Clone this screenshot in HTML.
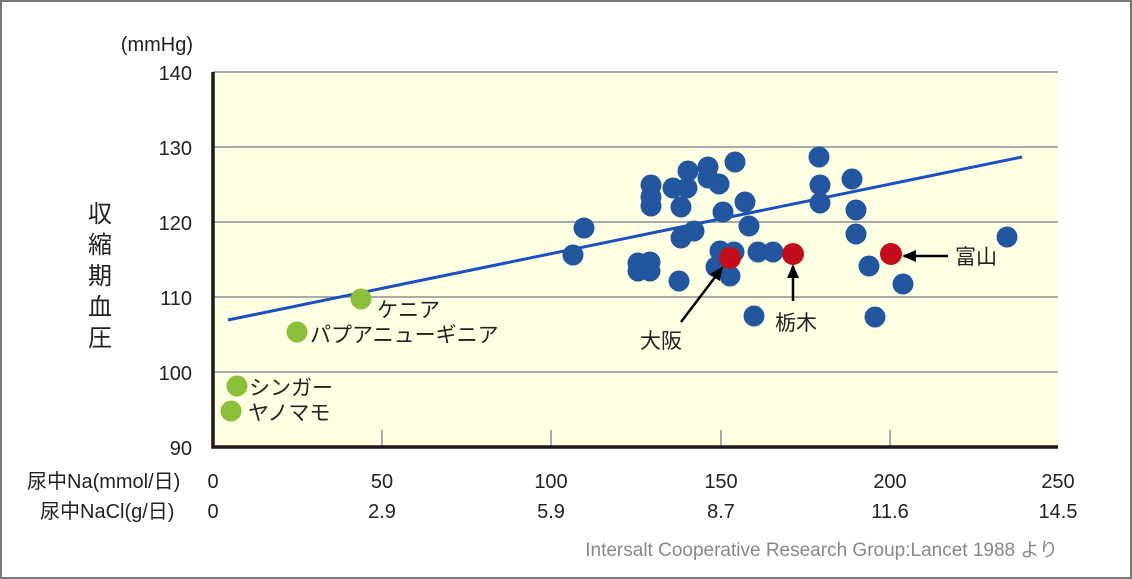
<!DOCTYPE html>
<html><head><meta charset="utf-8"><style>
html,body{margin:0;padding:0;background:#fff}
svg{display:block}
text{font-family:"Liberation Sans","Noto Sans CJK JP",sans-serif;fill:#222}
</style></head><body>
<svg width="1132" height="579" viewBox="0 0 1132 579" xmlns="http://www.w3.org/2000/svg">
<defs><marker id="ah" markerWidth="14" markerHeight="12" refX="12" refY="6" orient="auto" markerUnits="userSpaceOnUse"><path d="M0,0 L14,6 L0,12 z" fill="#000"/></marker></defs>
<rect x="1" y="1" width="1130" height="577" fill="#fff" stroke="#777" stroke-width="2"/>
<rect x="213" y="72" width="845" height="375" fill="#ffffe3"/>
<g stroke="#aaa" stroke-width="2">
<line x1="213" y1="72" x2="1058" y2="72"/>
<line x1="213" y1="147" x2="1058" y2="147"/>
<line x1="213" y1="222" x2="1058" y2="222"/>
<line x1="213" y1="297" x2="1058" y2="297"/>
<line x1="213" y1="372" x2="1058" y2="372"/>
<line x1="382" y1="430" x2="382" y2="447"/>
<line x1="551" y1="430" x2="551" y2="447"/>
<line x1="721" y1="430" x2="721" y2="447"/>
<line x1="890" y1="430" x2="890" y2="447"/>
</g>
<polyline points="213,72 213,447 1058,447" fill="none" stroke="#231815" stroke-width="3.5"/>
<line x1="228" y1="320" x2="1022" y2="157" stroke="#1b50c0" stroke-width="3"/>
<g fill="#2257a0">
<circle cx="573" cy="255" r="10.5"/><circle cx="584" cy="228" r="10.5"/><circle cx="638" cy="263" r="10.5"/><circle cx="638" cy="271" r="10.5"/><circle cx="650" cy="262" r="10.5"/><circle cx="650" cy="271" r="10.5"/><circle cx="651" cy="185" r="10.5"/><circle cx="651" cy="197" r="10.5"/><circle cx="651" cy="206" r="10.5"/><circle cx="679" cy="281" r="10.5"/><circle cx="673" cy="188" r="10.5"/><circle cx="687" cy="188" r="10.5"/><circle cx="681" cy="207" r="10.5"/><circle cx="681" cy="238" r="10.5"/><circle cx="688" cy="171" r="10.5"/><circle cx="694" cy="231" r="10.5"/><circle cx="708" cy="167" r="10.5"/><circle cx="708" cy="178" r="10.5"/><circle cx="719" cy="184" r="10.5"/><circle cx="723" cy="212" r="10.5"/><circle cx="720" cy="251" r="10.5"/><circle cx="716" cy="267" r="10.5"/><circle cx="730" cy="276" r="10.5"/><circle cx="734" cy="252" r="10.5"/><circle cx="735" cy="162" r="10.5"/><circle cx="745" cy="202" r="10.5"/><circle cx="749" cy="226" r="10.5"/><circle cx="754" cy="316" r="10.5"/><circle cx="758" cy="252" r="10.5"/><circle cx="773" cy="252" r="10.5"/><circle cx="819" cy="157" r="10.5"/><circle cx="820" cy="185" r="10.5"/><circle cx="820" cy="203" r="10.5"/><circle cx="852" cy="179" r="10.5"/><circle cx="856" cy="210" r="10.5"/><circle cx="856" cy="234" r="10.5"/><circle cx="869" cy="266" r="10.5"/><circle cx="875" cy="317" r="10.5"/><circle cx="903" cy="284" r="10.5"/><circle cx="1007" cy="237" r="10.5"/>
</g>
<g fill="#c30d1a"><circle cx="730" cy="258" r="11"/><circle cx="793" cy="254" r="11"/><circle cx="891" cy="254" r="11"/></g>
<g fill="#8cbf3a"><circle cx="361" cy="299" r="10.5"/><circle cx="297" cy="332" r="10.5"/><circle cx="237" cy="386" r="10.5"/><circle cx="231" cy="411" r="10.5"/></g>
<g stroke="#000" stroke-width="2.5">
<line x1="681" y1="322" x2="722" y2="268" marker-end="url(#ah)"/>
<line x1="793" y1="301" x2="793" y2="266" marker-end="url(#ah)"/>
<line x1="948" y1="256" x2="904" y2="256" marker-end="url(#ah)"/>
</g>
<g font-size="21">
<text x="377" y="317">ケニア</text>
<text x="310" y="342">パプアニューギニア</text>
<text x="249" y="395">シンガー</text>
<text x="248" y="420">ヤノマモ</text>
<text x="640" y="348">大阪</text>
<text x="775" y="330">栃木</text>
<text x="955" y="264">富山</text>
</g>
<g font-size="20" text-anchor="end">
<text x="193" y="51">(mmHg)</text>
<text x="192" y="80">140</text>
<text x="192" y="155">130</text>
<text x="192" y="230">120</text>
<text x="192" y="305">110</text>
<text x="192" y="380">100</text>
<text x="192" y="455">90</text>
</g>
<g font-size="24" text-anchor="middle">
<text x="100" y="222">収</text><text x="100" y="253">縮</text><text x="100" y="284">期</text><text x="100" y="315">血</text><text x="100" y="346">圧</text>
</g>
<g font-size="20" text-anchor="middle">
<text x="27" y="488" text-anchor="start">尿中Na(mmol/日)</text>
<text x="40" y="518" text-anchor="start">尿中NaCl(g/日)</text>
<text x="213" y="488">0</text><text x="382" y="488">50</text><text x="551" y="488">100</text><text x="721" y="488">150</text><text x="890" y="488">200</text><text x="1058" y="488">250</text>
<text x="213" y="518">0</text><text x="382" y="518">2.9</text><text x="551" y="518">5.9</text><text x="721" y="518">8.7</text><text x="890" y="518">11.6</text><text x="1058" y="518">14.5</text>
</g>
<text x="1058" y="556" font-size="19" text-anchor="end" style="fill:#888">Intersalt Cooperative Research Group:Lancet 1988 より</text>
</svg>
</body></html>
